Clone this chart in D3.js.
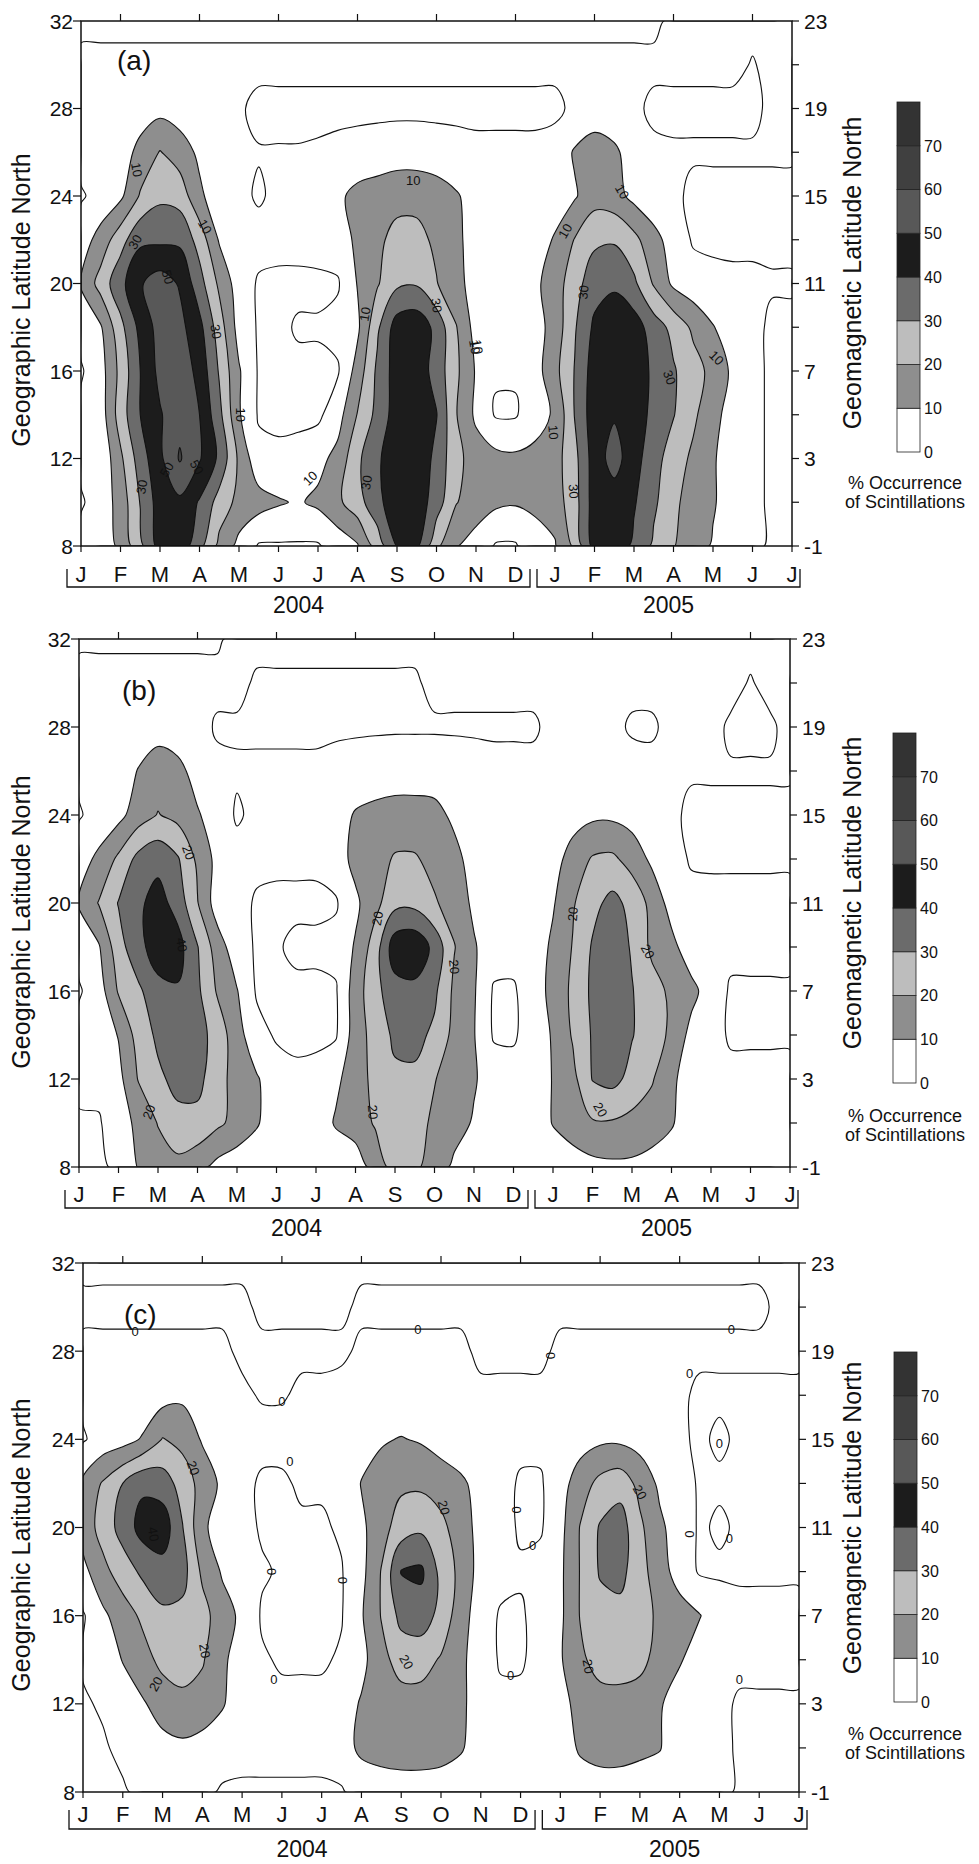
<!DOCTYPE html>
<html><head><meta charset="utf-8">
<script src="https://cdn.jsdelivr.net/npm/d3@7"></script>
<style>
body{margin:0;background:#fff;}
svg text{font-family:"Liberation Sans",Arial,Helvetica,sans-serif;fill:#111;}
</style></head>
<body><svg id="chart" width="979" height="1864"></svg>
<script>
// ---------------- data ----------------
const monthLabels = ["J","F","M","A","M","J","J","A","S","O","N","D","J","F","M","A","M","J","J"];
const yearLabels = ["2004","2005"];
const yearSpans = [[0, 11], [12, 18]];
const geoTicks = [8, 12, 16, 20, 24, 28, 32];
const magTickLabels = ["-1", "3", "7", "11", "15", "19", "23"];
const levels = [0, 10, 20, 30, 40, 50, 60, 70];
const barLabels = ["0", "10", "20", "30", "40", "50", "60", "70"];
const barTop = 80;
const gridMonths = [0,0.5,1,1.5,2,2.5,3,3.5,4,4.5,5,5.5,6,6.5,7,7.5,8,8.5,9,9.5,10,10.5,11,11.5,12,12.5,13,13.5,14,14.5,15,15.5,16,16.5,17,17.5,18];
const gridLats = [32,30,28,26,24,22,20,18,16,14,12,10,8];

// % occurrence, rows = gridLats (32 -> 8), columns = gridMonths
const occA = [
[-2,-2,-2,-2,-2,-2,-2,-2,-2,-2,-2,-2,-2,-2,-2,-2,-2,-2,-2,-2,-2,-2,-2,-2,-2,-2,-2,-2,-2,-2,2,2,2,2,2,2,2],
[2,2,2,2,2,2,2,2,2,2,2,2,2,2,2,2,2,2,2,2,2,2,2,2,2,2,2,2,2,2,2,2,2,2,-0.5,2,2],
[3,3,4,5,7,5,4,3,1,-2,-2,-2,-2,-2,-2,-2,-2,-2,-2,-2,-2,-2,-2,-2,-2,2,4,3,2,-2,-2,-2,-2,-2,-2,2,2],
[3,3,5,13,20.5,15,8,4,1,0.5,0.5,0.5,1,2,3,4,5,5,4,3,2,2,2,2,4,11,15,12,5,2,1,1,1,1,1,1,1],
[-1,3,8,21,28,26,12,4,2,-1,2,3,4,8,13,15,17,17,15,11,6,4,3,3,5,9,16,14,7,4,2,-2,-2,-2,-2,-2,-2],
[5,14,26,38,38,38,26,9,4,3,3,3,4,5,12,18,23,23,18,12,6,4,3,5,11,20.5,28,29,23,13,6,-1,-2,-2,-2,-2,-2],
[11,24,37,49,55,49,34,18,5,-1,-2,-2,-2,-1,10.5,19,28,29,20.5,13,6,4,4,8,15,26,36,38,32,19,8,4,3,2,2,1,1],
[3,9,27,43,54,53,43,25,6,-1,-2,1,1,3,8,28,45,47,37,20.5,6,4,4,6,14,29,42,48,45,35,27,18,10.5,5,3,-2,-2],
[-1,6,23,40,53,56,47,29,11,-1,-2,-2,-2,-1,14,32,45,46,36,22,9,1,1,6,17,30.5,45,48,46,38,31,24,17,8,3,-2,-2],
[2,5,25,40,49,57,50,33,11,-1,-2,-2,-2,6,20.5,33,45,47,40.5,20.5,8,-1,-1,7,11,30.5,46,49,46,37,30.5,22,13,6,3,-2,-2],
[2,2,18,35,48,61,51,38,18,3,2,3,7,13,28,38,48,48,37,23,15,13,12,12,16,27,45,54,44,34,25,18,11,5,3,-2,-2],
[-1,4,14,30.5,45,48,39,26,17,14,11,9,12,18,26,37,47,46,35,20.5,15,12,11,12,15,26,45,45,41,32,22,16,11,5,3,-2,-2],
[3,4,12,27,44,46,33,17,7,-1,-1,-1,-1,4,9,24,40.5,42,22,10.5,6,-1,-1,6,9,22,44,46,38,28,20.5,14,9,5,3,-2,-2]
];
const occB = [
[-1,-1,-1,-1,-1,-1,-1,-1,2,2,2,2,2,2,2,2,2,2,2,2,2,2,2,2,2,2,2,2,2,2,2,2,2,2,2,2,2],
[2,2,2,2,2,2,2,2,2,-1,-1,-1,-1,-1,-1,-1,-1,-1,2,2,2,2,2,2,2,2,2,2,2,2,2,2,2,2,-0.5,2,2],
[3,3,3,4,6,4,3,-1,-1,-1,-1,-1,-1,-1,-1,-1,-1,-1,-1,-1,-1,-1,-1,-1,2,2,2,2,-1,-1,2,2,2,-1,-1,-1,2],
[2,2,4,10.5,15,13,6,2,1,1,1,1,1,2,3,4,5,5,5,4,3,2,2,2,2,3,4,4,3,2,1,0.5,0.5,0.5,0.5,0.5,0.5],
[-1,4,7,15,20.5,17,11,5,-1,2,2,2,2,5,11,13,14,14,13,8,4,3,3,3,4,6,8,8,6,3,1,-1,-1,-1,-1,-1,-1],
[6,12,22,33,37,31,18,7,3,2,2,2,2,5,13,16,21,21,17,13,6,3,3,3,6,14,21,22,16,8,4,-1,-1,-1,-1,-1,-1],
[11,20.5,30.5,38,44,36,20.5,5,3,-1,-2,-2,-2,-1,8,17,27,27,21,16,8,4,3,3,9,19,27,33,27,17,6,3,2,2,2,2,2],
[3,9,26,37,45,44,30.5,15,4,-1,-1,2,2,3,11,25,46,48,37,20.5,11,4,3,4,12,20.5,31,36,29,18,13,4,2,2,2,2,2],
[-1,5,21,28,37,39,32,19,10.5,-1,-2,-2,-2,-1,15,27,36,37,32,18,11,-1,-1,5,13,22,32,36,30.5,24,18,13,5,-1,-1,-1,-1],
[3,4,10.5,24,32,35,34,26,14,3,-1,-2,-2,-1,15,24,32,33,28,17,10.5,-1,-1,4,11,21,31,35,30.5,25,18,7,3,-1,-1,-1,-1],
[2,3,7,20.5,28,33,33,24,16,11,4,2,3,8,15,23,28,28,20.5,15,11,5,3,4,10.5,17,30.5,33,27,21,12,5,2,2,2,2,2],
[-1,-1,6,12,20.5,27,27,22,17,11,4,3,4,11,15,21,25,24,18,14,9,4,3,4,10.5,14,19,19,17,15,11,4,2,2,2,2,2],
[-1,-1,1,10.5,15,17,13,7,4,3,3,3,3,3,4,14,24,22,15,8,4,3,3,3,4,6,7,8,8,6,4,3,2,2,2,2,2]
];
const occC = [
[1,1,1,1,1,1,1,1,1,1,1,1,1,1,1,1,1,1,1,1,1,1,1,1,1,1,1,1,1,1,1,1,1,1,1,1,1],
[-1,-1,-1,-1,-1,-1,-1,-1,-1,1,1,1,1,1,-1,-1,-1,-1,-1,-1,-1,-1,-1,-1,-1,-1,-1,-1,-1,-1,-1,-1,-1,-1,-1,1,1],
[1,1,1,1,1,1,1,1,-1,-1,-1,-1,-1,-1,1,1,1,1,1,1,-1,-1,-1,-1,1,1,1,1,1,1,1,1,1,1,1,1,1],
[2,2,2,3,6,8,5,3,1,-0.5,-0.5,1,1,2,2,3,3,3,2,2,1,1,1,1,2,3,4,4,3,2,1,-1,-1,-1,-1,-1,-1],
[-1,4,6,11,20.5,17,9,5,3,2,2,2,2,3,5,9,10.5,9,6,3,2,2,2,2,4,6,8,8,6,3,1,-1,1,-1,-1,-1,-1],
[12,21,30,38,35,26,16,8,2,-1,-1,1,1,1,10.5,14,18,18,15,12,6,3,-1,-1,6,15,23,26,17,8,4,-1,-1,-1,-1,-1,-1],
[14,24,34,44,46,30.5,12,5,3,-1,-1,-1,-1,1,8,16,25,28,23,14,7,3,-1,-1,7,20.5,31,35,22,12,5,-1,1,-1,-1,-1,-1],
[7,17,25,32,36,34,18,9,4,1,-1,-1,-1,-0.5,7,20.5,40.5,42,27,17,6,3,1,3,8,20.5,31,33,24,14,6,-1,-1,-1,-1,-1,-1],
[-1,8,15,22,28,27,24,14,8,-1,-1,-1,-1,-0.5,9,20.5,33,35,27,14,5,-1,-1,3,8,20.5,26,27,24,18,14,10.5,4,2,2,2,2],
[1,3,10.5,16,23,25,21,12,5,1,-1,-1,-1,1,7,17,24,24,19,12,5,-1,-1,3,9,18,24,25,23,16,11,5,2,2,2,2,2],
[-1,1,4,9,14,17,16,11,4,2,2,2,2,5,11,14,16,16,15,12,5,2,2,3,7,13,16,16,15,11,5,2,2,-1,-1,-1,-1],
[-1,-1,2,4,7,8,6,4,2,2,2,2,2,6,12,13,14,14,13,11,5,2,2,3,6,11,13,13,12,10.5,4,2,2,-1,-1,-1,-1],
[-1,-1,-1,2,3,3,2,-1,-1,-1,-1,-1,-1,-1,4,6,6,6,6,4,3,2,2,3,4,6,6,6,5,4,3,2,2,-1,-1,-1,-1]
];

// contour labels: [month, latitude, text, rotation]
const labelsA = [
[1.41,25.2,"10",80],[1.37,21.9,"30",-60],[3.14,22.6,"10",60],[2.2,20.3,"50",75],[3.42,17.8,"30",80],
[4.03,14.0,"10",90],[1.54,10.7,"30",-80],[2.17,11.5,"50",-60],[2.93,11.6,"50",60],[5.8,11.1,"10",-45],
[8.41,24.7,"10",0],[7.19,18.6,"10",-80],[9.0,19.0,"30",80],[9.97,17.1,"10",80],[7.23,10.9,"30",-80],
[13.7,24.2,"10",60],[12.26,22.4,"10",-60],[12.72,19.6,"30",-85],[10.04,17.1,"10",80],[16.09,16.6,"10",45],
[14.9,15.7,"30",70],[11.96,13.2,"10",85],[12.47,10.5,"30",85]
];
const labelsB = [
[2.77,22.3,"20",70],[2.6,18.1,"40",80],[1.77,10.5,"20",-70],[7.56,19.3,"20",-80],[9.5,17.1,"20",85],
[7.44,10.5,"20",85],[12.5,19.5,"20",-85],[14.4,17.8,"20",60],[13.2,10.6,"20",60]
];
const labelsC = [
[1.31,28.9,"0",0],[5.0,25.7,"0",0],[8.42,29.0,"0",0],[11.75,27.8,"0",90],[15.25,27.0,"0",0],
[16.3,29.0,"0",0],[16.0,23.8,"0",0],[15.25,19.7,"0",90],[16.25,19.5,"0",0],[16.5,13.1,"0",0],
[5.2,23.0,"0",0],[4.75,18.0,"0",90],[6.53,17.6,"0",90],[4.8,13.1,"0",0],[10.9,20.8,"0",90],
[11.3,19.2,"0",0],[10.75,13.3,"0",0],
[2.77,22.7,"20",70],[3.06,14.4,"20",80],[1.83,12.9,"20",-60],[1.77,19.7,"40",80],[9.07,20.9,"20",75],
[8.13,13.9,"20",60],[14.0,21.6,"20",60],[12.7,13.7,"20",80]
];

// ---------------- style / layout ----------------
const bandColors = ["#ffffff","#8e8e8e","#bdbdbd","#6b6b6b","#1c1c1c","#585858","#404040","#333333"];
const panels = [
 {data: occA, labels: labelsA, tag: "(a)", left: 81, right: 792, top: 21, bottom: 546,
  tagX: 117, tagY: 70, barX: 897, barTop: 102, barBottom: 452, rTitleY: 273, lTitleY: 300,
  monthY: 582, bracketY: 587, bracketTopY: 569, yearY: 613, capY: 489},
 {data: occB, labels: labelsB, tag: "(b)", left: 79, right: 790, top: 639, bottom: 1167,
  tagX: 122, tagY: 700, barX: 893, barTop: 733, barBottom: 1083, rTitleY: 893, lTitleY: 922,
  monthY: 1202, bracketY: 1208, bracketTopY: 1190, yearY: 1236, capY: 1122},
 {data: occC, labels: labelsC, tag: "(c)", left: 83, right: 799, top: 1263, bottom: 1792,
  tagX: 124, tagY: 1324, barX: 894, barTop: 1352, barBottom: 1702, rTitleY: 1518, lTitleY: 1545,
  monthY: 1822, bracketY: 1829, bracketTopY: 1810, yearY: 1857, capY: 1740}
];

const svg = d3.select("#chart");
const nx = gridMonths.length, ny = gridLats.length;
const ix = d3.scaleLinear().domain([0, nx - 1]).range([gridMonths[0], gridMonths[nx - 1]]);
const iy = d3.scaleLinear().domain([0, ny - 1]).range([gridLats[0], gridLats[ny - 1]]);
const clamp = (v, a, b) => Math.max(a, Math.min(b, v));

panels.forEach((p, pi) => {
  const g = svg.append("g");
  const x = d3.scaleLinear().domain([0, 18]).range([p.left, p.right]);
  const y = d3.scaleLinear().domain([8, 32]).range([p.bottom, p.top]);
  const clipId = "clip" + pi;
  svg.append("clipPath").attr("id", clipId).append("rect")
    .attr("x", p.left).attr("y", p.top).attr("width", p.right - p.left).attr("height", p.bottom - p.top);

  const values = p.data.flat();
  const cs = d3.contours().size([nx, ny]).thresholds(levels)(values);
  const toPx = ([px, py]) => [x(ix(clamp(px - 0.5, 0, nx - 1))), y(iy(clamp(py - 0.5, 0, ny - 1)))];
  const line = d3.line().curve(d3.curveCatmullRomClosed.alpha(0.5));
  const ringPath = ring => {
    const out = [];
    ring.map(toPx).forEach(q => { const l = out[out.length - 1]; if (!l || Math.abs(l[0] - q[0]) > 0.01 || Math.abs(l[1] - q[1]) > 0.01) out.push(q); });
    if (out.length > 1) { const a = out[0], b = out[out.length - 1]; if (Math.abs(a[0] - b[0]) < 0.01 && Math.abs(a[1] - b[1]) < 0.01) out.pop(); }
    return out.length > 2 ? line(out) : "";
  };
  const geomPath = c => c.coordinates.map(poly => poly.map(ringPath).join("")).join("");

  const plot = g.append("g").attr("clip-path", `url(#${clipId})`);
  plot.append("rect").attr("x", p.left).attr("y", p.top).attr("width", p.right - p.left).attr("height", p.bottom - p.top).attr("fill", "#fff");
  cs.forEach((c, k) => {
    plot.append("path").attr("d", geomPath(c)).attr("fill", bandColors[k]).attr("fill-rule", "evenodd");
  });
  cs.forEach((c, k) => {
    plot.append("path").attr("d", geomPath(c)).attr("fill", "none").attr("stroke", "#111").attr("stroke-width", 1.1);
  });
  p.labels.forEach(([m, lat, t, r]) => {
    plot.append("text").attr("transform", `translate(${x(m)},${y(lat)}) rotate(${r})`)
      .attr("text-anchor", "middle").attr("dy", "0.35em").attr("font-size", 13).text(t);
  });

  g.append("rect").attr("x", p.left).attr("y", p.top).attr("width", p.right - p.left).attr("height", p.bottom - p.top)
    .attr("fill", "none").attr("stroke", "#111").attr("stroke-width", 1.5);

  monthLabels.forEach((lab, i) => {
    g.append("line").attr("x1", x(i)).attr("x2", x(i)).attr("y1", p.bottom).attr("y2", p.bottom + 6).attr("stroke", "#111").attr("stroke-width", 1.2);
    g.append("text").attr("x", x(i)).attr("y", p.monthY).attr("text-anchor", "middle").attr("font-size", 22).text(lab);
    if (i % 2 === 1) g.append("line").attr("x1", x(i)).attr("x2", x(i)).attr("y1", p.top).attr("y2", p.top - 7).attr("stroke", "#111").attr("stroke-width", 1.2);
  });
  yearSpans.forEach(([a, b], k) => {
    const x0 = k === 0 ? x(a) - 14 : x(a) - 18;
    const x1 = k === 0 ? x(b) + 14.5 : x(b) + 8;
    g.append("path").attr("d", `M${x0},${p.bracketTopY}V${p.bracketY}H${x1}V${p.bracketTopY}`)
      .attr("fill", "none").attr("stroke", "#111").attr("stroke-width", 1.3);
    g.append("text").attr("x", (x0 + x1) / 2).attr("y", p.yearY).attr("text-anchor", "middle").attr("font-size", 23).text(yearLabels[k]);
  });
  geoTicks.forEach(v => {
    g.append("line").attr("x1", p.left - 8).attr("x2", p.left).attr("y1", y(v)).attr("y2", y(v)).attr("stroke", "#111").attr("stroke-width", 1.2);
    g.append("text").attr("x", p.left - 8).attr("y", y(v)).attr("dy", "0.36em").attr("text-anchor", "end").attr("font-size", 21).text(v);
  });
  d3.range(8, 33, 2).forEach(v => {
    g.append("line").attr("x1", p.right).attr("x2", p.right + 7).attr("y1", y(v)).attr("y2", y(v)).attr("stroke", "#111").attr("stroke-width", 1.2);
  });
  geoTicks.forEach((v, k) => {
    g.append("text").attr("x", p.right + 12).attr("y", y(v)).attr("dy", "0.36em").attr("font-size", 21).text(magTickLabels[k]);
  });
  g.append("text").attr("transform", `translate(30,${p.lTitleY}) rotate(-90)`).attr("text-anchor", "middle").attr("font-size", 25).text("Geographic Latitude North");
  g.append("text").attr("transform", `translate(861,${p.rTitleY}) rotate(-90)`).attr("text-anchor", "middle").attr("font-size", 25).text("Geomagnetic Latitude North");
  g.append("text").attr("x", p.tagX).attr("y", p.tagY).attr("font-size", 28).text(p.tag);

  const cb = d3.scaleLinear().domain([0, barTop]).range([p.barBottom, p.barTop]);
  levels.forEach((lv, k) => {
    g.append("rect").attr("x", p.barX).attr("y", cb(lv + 10)).attr("width", 23).attr("height", cb(lv) - cb(lv + 10))
      .attr("fill", bandColors[k]).attr("stroke", "#222").attr("stroke-width", 0.8);
    g.append("text").attr("x", p.barX + 27).attr("y", cb(lv)).attr("dy", "0.36em").attr("font-size", 16).text(barLabels[k]);
  });
  g.append("text").attr("x", 905).attr("y", p.capY).attr("text-anchor", "middle").attr("font-size", 18).text("% Occurrence");
  g.append("text").attr("x", 905).attr("y", p.capY + 19).attr("text-anchor", "middle").attr("font-size", 18).text("of Scintillations");
});
</script></body></html>
